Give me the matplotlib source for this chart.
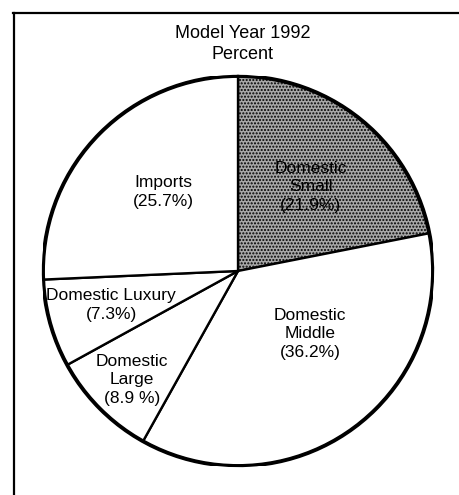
import matplotlib

matplotlib.use("Agg")
import matplotlib.pyplot as plt
from matplotlib.lines import Line2D
from matplotlib.patches import Circle

# Model year 1992 sales share, clockwise from 12 o'clock
SEGMENTS = ["Domestic\nSmall", "Domestic\nMiddle", "Domestic\nLarge",
            "Domestic Luxury", "Imports"]
SHARES = [21.9, 36.2, 8.9, 7.3, 25.7]
SHARE_TEXT = ["(21.9%)", "(36.2%)", "(8.9 %)", "(7.3%)", "(25.7%)"]

# label anchor points in pie units (hand placed like the original)
LABEL_XY = [(0.374, 0.431), (0.369, -0.323), (-0.544, -0.559),
            (-0.651, -0.174), (-0.385, 0.405)]

plt.rcParams["font.family"] = ["Liberation Sans", "DejaVu Sans"]

fig = plt.figure(figsize=(4.6, 4.95), dpi=100)
ax = fig.add_axes([0.0935, 0.0586, 0.8478, 0.7879])

wedges, _ = ax.pie(
    SHARES,
    startangle=90,
    counterclock=False,
    colors=["#a8a8a8", "white", "white", "white", "white"],
    wedgeprops=dict(edgecolor="black", linewidth=1.7),
)
wedges[0].set_hatch(".....")

# heavier outer rim
ax.add_patch(Circle((0, 0), 1, facecolor="none", edgecolor="black",
                    linewidth=2.8, zorder=5))

for name, txt, (x, y) in zip(SEGMENTS, SHARE_TEXT, LABEL_XY):
    ax.text(x, y, f"{name}\n{txt}", ha="center", va="center",
            fontsize=12.5, linespacing=1.3, zorder=6)

ax.set_xlim(-1, 1)
ax.set_ylim(-1, 1)
ax.set_aspect("equal")
ax.axis("off")

fig.text(0.527, 0.911, "Model Year 1992\nPercent", ha="center", va="center",
         fontsize=13, linespacing=1.3)

# frame lines from the original page
fig.add_artist(Line2D([0.028, 1.0], [0.974, 0.974], color="black", linewidth=1.6))
fig.add_artist(Line2D([0.0304, 0.0304], [0.0, 0.974], color="black", linewidth=1.6))

fig.savefig("out.png", dpi=100, facecolor="white")
